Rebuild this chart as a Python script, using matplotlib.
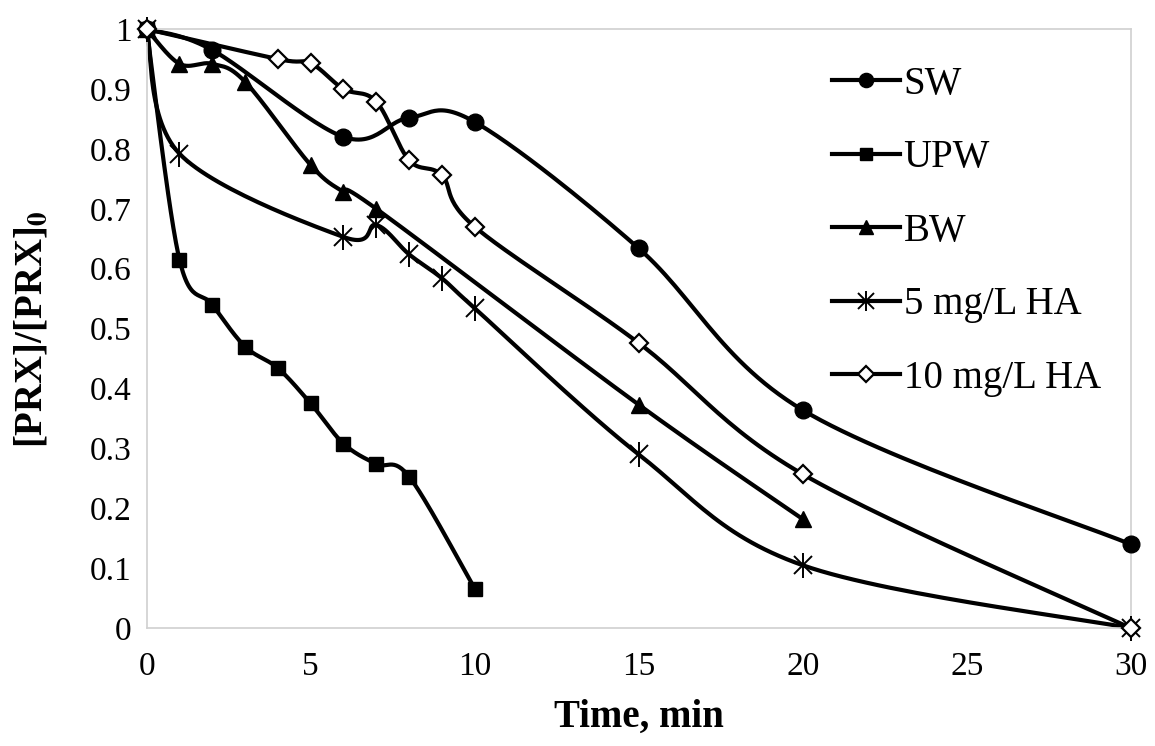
import numpy as np
import matplotlib
matplotlib.use('Agg')
import matplotlib.pyplot as plt
from matplotlib.lines import Line2D

plt.rcParams['font.family'] = ['Liberation Serif', 'DejaVu Serif']
plt.rcParams['mathtext.fontset'] = 'stix'

# Data
sw_t = [0, 2, 6, 8, 10, 15, 20, 30]
sw_c = [1, 0.965, 0.82, 0.852, 0.845, 0.634, 0.364, 0.14]

upw_t = [0, 1, 2, 3, 4, 5, 6, 7, 8, 10]
upw_c = [1, 0.615, 0.54, 0.47, 0.434, 0.375, 0.308, 0.274, 0.253, 0.066]

bw_t = [0, 1, 2, 3, 5, 6, 7, 15, 20]
bw_c = [1, 0.942, 0.942, 0.912, 0.773, 0.728, 0.70, 0.373, 0.182]

ha5_t = [0, 1, 6, 7, 8, 9, 10, 15, 20, 30]
ha5_c = [1, 0.792, 0.653, 0.673, 0.624, 0.584, 0.534, 0.29, 0.105, 0]

ha10_t = [0, 4, 5, 6, 7, 8, 9, 10, 15, 20, 30]
ha10_c = [1, 0.95, 0.943, 0.9, 0.879, 0.781, 0.756, 0.67, 0.476, 0.257, 0]


def smooth(x, y, n=30):
    # Excel-like smoothed line (Catmull-Rom segments as cubic Bezier)
    p = np.column_stack([x, y]).astype(float)
    p = np.vstack([p[0], p, p[-1]])
    out = []
    s = np.linspace(0, 1, n)[:, None]
    for i in range(1, len(p) - 2):
        p0, p1, p2, p3 = p[i - 1], p[i], p[i + 1], p[i + 2]
        c1 = p1 + (p2 - p0) / 6
        c2 = p2 - (p3 - p1) / 6
        seg = ((1 - s) ** 3) * p1 + 3 * ((1 - s) ** 2) * s * c1 + 3 * (1 - s) * s ** 2 * c2 + s ** 3 * p2
        out.append(seg)
    out = np.vstack(out)
    return out[:, 0], out[:, 1]


fig = plt.figure(figsize=(11.55, 7.46), dpi=100)
ax = fig.add_axes([0.127, 0.158, 0.852, 0.803])

lw = 3
series = [
    ('SW', sw_t, sw_c, dict(marker='o', ms=12, mfc='black', mec='black')),
    ('UPW', upw_t, upw_c, dict(marker='s', ms=10.5, mfc='black', mec='black')),
    ('BW', bw_t, bw_c, dict(marker='^', ms=11.5, mfc='black', mec='black')),
    ('5 mg/L HA', ha5_t, ha5_c, None),
    ('10 mg/L HA', ha10_t, ha10_c, dict(marker='D', ms=9.5, mfc='white', mec='black', mew=1.6)),
]

handles = []
for name, t, c, mk in series:
    xs, ys = smooth(t, c)
    ax.plot(xs, ys, color='black', lw=lw, clip_on=False, zorder=2)
    if mk is not None:
        ax.plot(t, c, linestyle='none', clip_on=False, zorder=3, **mk)
        hk = dict(mk)
        hk['ms'] = mk['ms'] * 0.85
        handles.append(Line2D([], [], color='black', lw=lw, **hk))
    else:
        # asterisk: x plus vertical bar
        ax.plot(t, c, linestyle='none', marker='x', ms=13, mec='black', mew=1.4, clip_on=False, zorder=3)
        ax.plot(t, c, linestyle='none', marker='|', ms=18, mec='black', mew=1.4, clip_on=False, zorder=3)
        handles.append((Line2D([], [], color='black', lw=lw, marker='x', ms=11, mew=1.4),
                        Line2D([], [], linestyle='none', color='black', marker='|', ms=15, mew=1.4)))

ax.set_xlim(0, 30)
ax.set_ylim(0, 1)
ax.set_xticks(range(0, 31, 5))
ax.set_yticks(np.arange(0, 1.01, 0.1))
ax.set_yticklabels(['0'] + ['%.1f' % v for v in np.arange(0.1, 0.95, 0.1)] + ['1'])
ax.tick_params(length=0, labelsize=24)
ax.tick_params(axis='y', pad=11)
ax.tick_params(axis='x', pad=17)
for sp in ax.spines.values():
    sp.set_color('#d0d0d0')
    sp.set_linewidth(1.2)

ax.set_xlabel('Time, min', fontsize=28, fontweight='bold', labelpad=12)
ax.set_ylabel(r'[PRX]/[PRX]$_\mathbf{0}$', fontsize=28, fontweight='bold')
ax.yaxis.set_label_coords(-0.098, 0.5)

ax.legend(handles, [s[0] for s in series], loc='upper left', bbox_to_anchor=(0.72, 0.912),
          bbox_transform=fig.transFigure, frameon=False, fontsize=28,
          borderpad=0, borderaxespad=0,
          handlelength=1.75, handletextpad=0.1, labelspacing=0.94)

fig.savefig('out.png', dpi=100)
